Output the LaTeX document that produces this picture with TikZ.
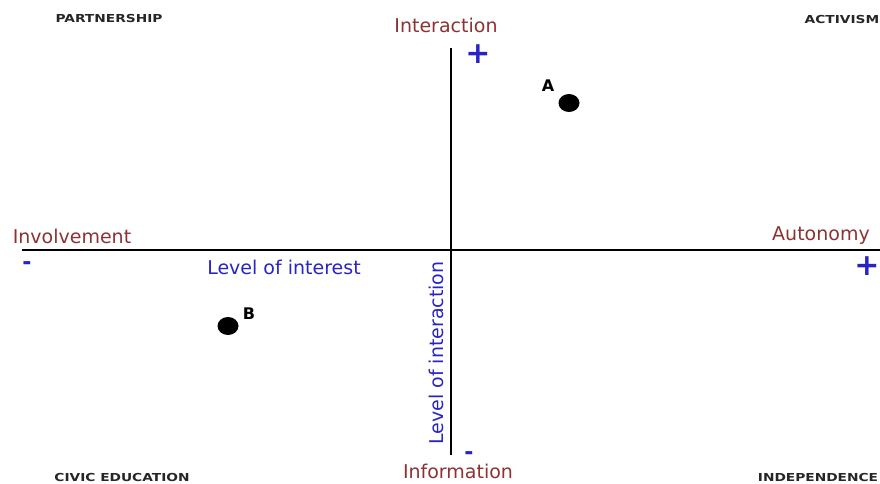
\documentclass[tikz,border=0pt]{standalone}
\usepackage{fontspec}
\setmainfont{DejaVu Sans}
\usetikzlibrary{shapes.geometric}
\definecolor{labred}{RGB}{140,50,52}
\definecolor{labblue}{RGB}{40,35,200}
\begin{document}
\begin{tikzpicture}[x=1pt,y=-1pt,
  axis/.style={line width=2pt,draw=black},
  pole/.style={text=labred,font=\fontsize{19}{19}\selectfont,inner sep=0pt,anchor=base},
  scale label/.style={text=labblue,font=\fontsize{19}{19}\selectfont,inner sep=0pt,anchor=base},
  sign/.style={text=labblue,font=\bfseries\fontsize{30}{30}\selectfont,inner sep=0pt},
  minus/.style={text=labblue,font=\bfseries\fontsize{22}{22}\selectfont,inner sep=0pt},
  corner/.style={text=black!85,font=\bfseries\fontsize{11}{11}\selectfont,inner sep=0pt,anchor=base},
  dot/.style={ellipse,fill=black,minimum width=21pt,minimum height=18pt,inner sep=0pt},
  ptlabel/.style={font=\bfseries\fontsize{16}{16}\selectfont,inner sep=0pt,anchor=base}
]
\useasboundingbox (0,0) rectangle (880,483);
% axes
\coordinate (hl) at (22,250);
\coordinate (hr) at (880,250);
\coordinate (vt) at (451,48);
\coordinate (vb) at (451,455);
\draw[axis] (hl) -- (hr);
\draw[axis] (vt) -- (vb);
% pole labels
\node[pole] (interaction) at (446,32) {Interaction};
\node[pole] (information) at (458,478) {Information};
\node[pole] (involvement) at (72,243) {Involvement};
\node[pole] (autonomy) at (821,240) {Autonomy};
% scale labels
\node[scale label] (interest) at (284,274) {Level of interest};
\node[scale label,rotate=90] (levinter) at (443,353) {Level of interaction};
% signs
\node[sign] (plustop) at (478,54) {+};
\node[sign] (plusright) at (867,266) {+};
\node[minus] (minusleft) at (27,266) {-};
\node[minus] (minusbottom) at (469,456) {-};
% corner labels
\node[corner] (partnership) at (109,22) {\scalebox{1.25}[1]{PARTNERSHIP}};
\node[corner] (activism) at (842,23) {\scalebox{1.25}[1]{ACTIVISM}};
\node[corner] (civic) at (122,481) {\scalebox{1.25}[1]{CIVIC EDUCATION}};
\node[corner] (independence) at (818,481) {\scalebox{1.25}[1]{INDEPENDENCE}};
% points
\node[dot] (dotA) at (569,103) {};
\node[ptlabel] (labA) at (548,91) {A};
\node[dot] (dotB) at (228,326) {};
\node[ptlabel] (labB) at (249,319) {B};
\end{tikzpicture}
\end{document}
